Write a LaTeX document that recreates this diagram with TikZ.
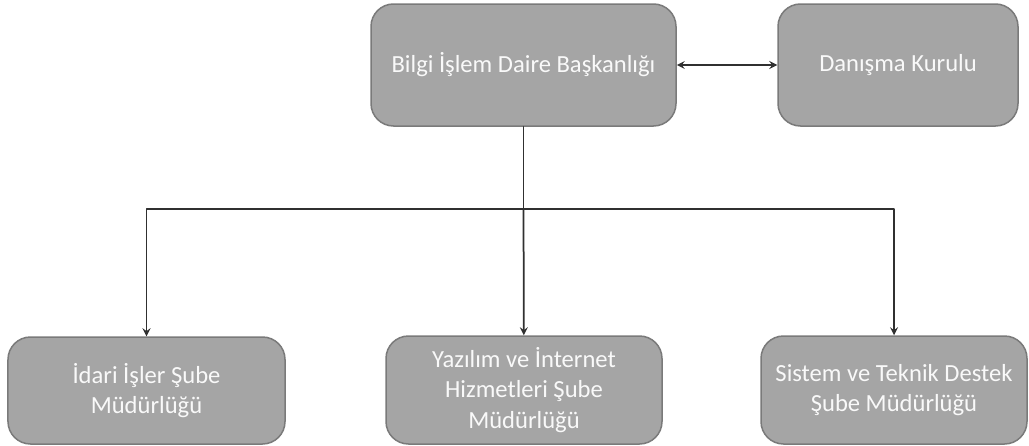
\documentclass[tikz,border=0pt]{standalone}
\usepackage{fontspec}
\setmainfont{Carlito}
\definecolor{boxfill}{HTML}{A5A5A5}
\definecolor{boxline}{HTML}{7A7A7A}
\definecolor{wire}{HTML}{303030}

\begin{document}
\begin{tikzpicture}[line cap = round, line join = round,
  unit/.style = {draw = boxline, fill = boxfill, line width = 0.03cm,
    rounded corners = 0.45cm, align = center, text = white!95!gray,
    font = \fontsize{14}{17.5}\selectfont, inner sep = 0},
  wire/.style = {draw = wire, line width = 0.035cm, >=stealth}]
  \useasboundingbox (0, 0) rectangle (20.58cm, -8.92cm);

  \node[unit, minimum width = 6.1cm, minimum height = 2.44cm]
    (daire) at (10.47cm, -1.3cm) {Bilgi İşlem Daire Başkanlığı};
  \node[unit, minimum width = 4.8cm, minimum height = 2.44cm]
    (kurul) at (17.96cm, -1.3cm) {Danışma Kurulu};

  \node[unit, minimum width = 5.54cm, minimum height = 2.14cm]
    (idari) at (2.93cm, -7.81cm) {İdari İşler Şube\\Müdürlüğü};
  \node[unit, minimum width = 5.52cm, minimum height = 2.16cm]
    (yazilim) at (10.48cm, -7.8cm) {Yazılım ve İnternet\\Hizmetleri Şube\\Müdürlüğü};
  \node[unit, minimum width = 5.32cm, minimum height = 2.16cm]
    (sistem) at (17.88cm, -7.8cm) {Sistem ve Teknik Destek\\Şube Müdürlüğü};

  \draw[wire, <->] (daire) -- (kurul);

  \coordinate (hub) at (daire.south |- 0, -4.18cm);
  \draw[wire] (daire) -- (hub);
  \draw[wire, ->] (hub) -| (idari);
  \draw[wire, ->] (hub) -- (yazilim);
  \draw[wire, ->] (hub) -| (sistem);
\end{tikzpicture}
\end{document}
